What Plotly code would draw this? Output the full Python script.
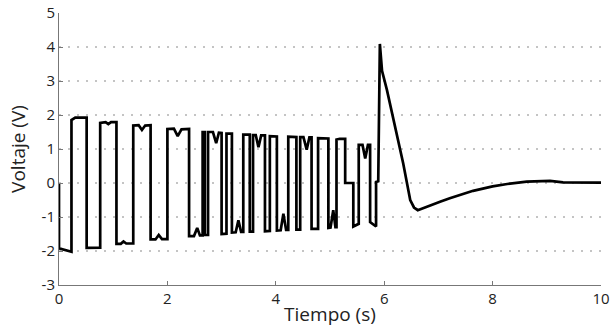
import plotly.graph_objects as go

# Time (s) and voltage (V) samples
tiempo = [
    0.00, 0.00, 0.23, 0.23, 0.30, 0.51, 0.51, 0.76, 0.76, 0.86, 0.91, 0.96, 1.06,
    1.06, 1.14, 1.19, 1.24, 1.37, 1.37, 1.47, 1.53, 1.59, 1.69, 1.69, 1.78, 1.84,
    1.90, 2.00, 2.00, 2.12, 2.19, 2.26, 2.40, 2.40, 2.49, 2.55, 2.60, 2.65, 2.65,
    2.69, 2.69, 2.75, 2.75, 2.84, 2.90, 2.95, 3.00, 3.00, 3.09, 3.09, 3.19, 3.19,
    3.26, 3.31, 3.36, 3.40, 3.40, 3.52, 3.52, 3.58, 3.58, 3.63, 3.68, 3.73, 3.80,
    3.80, 3.89, 3.89, 4.02, 4.02, 4.09, 4.14, 4.19, 4.23, 4.23, 4.38, 4.38, 4.45,
    4.45, 4.51, 4.57, 4.62, 4.66, 4.66, 4.78, 4.78, 4.97, 4.97, 5.01, 5.06, 5.10,
    5.12, 5.12, 5.18, 5.28, 5.28, 5.43, 5.43, 5.53, 5.53, 5.60, 5.65, 5.70, 5.74,
    5.74, 5.85, 5.85, 5.89, 5.92, 5.96, 6.05, 6.20, 6.35, 6.48, 6.55, 6.62, 6.85,
    7.03, 7.21, 7.64, 8.00, 8.27, 8.63, 9.06, 9.30, 10.00,
]
voltaje = [
    0.00, -1.92, -2.02, 1.85, 1.92, 1.92, -1.91, -1.90, 1.77, 1.79, 1.73, 1.79, 1.79,
    -1.79, -1.79, -1.72, -1.78, -1.78, 1.69, 1.70, 1.56, 1.69, 1.70, -1.66, -1.66, -1.53,
    -1.65, -1.65, 1.59, 1.60, 1.38, 1.58, 1.59, -1.56, -1.56, -1.32, -1.54, -1.54, 1.50,
    1.50, -1.53, -1.53, 1.50, 1.50, 1.17, 1.48, 1.47, -1.50, -1.49, 1.45, 1.45, -1.46,
    -1.45, -1.10, -1.44, -1.44, 1.42, 1.42, -1.43, -1.43, 1.41, 1.41, 1.05, 1.40, 1.40,
    -1.42, -1.41, 1.38, 1.37, -1.40, -1.39, -0.90, -1.38, -1.38, 1.36, 1.35, -1.37, -1.37,
    1.35, 1.35, 0.98, 1.34, 1.34, -1.35, -1.35, 1.32, 1.31, -1.32, -1.31, -0.80, -1.30,
    -1.30, 1.28, 1.30, 1.30, 0.00, 0.00, -1.28, -1.20, 1.12, 1.12, 0.72, 1.12, 1.12,
    -1.15, -1.28, 0.03, 0.05, 4.09, 3.30, 2.74, 1.66, 0.58, -0.50, -0.72, -0.80, -0.65,
    -0.55, -0.45, -0.23, -0.10, -0.03, 0.04, 0.06, 0.02, 0.01,
]

x_ticks = [0, 2, 4, 6, 8, 10]
y_ticks = [-3, -2, -1, 0, 1, 2, 3, 4, 5]

fig = go.Figure()
fig.add_trace(go.Scatter(
    x=tiempo, y=voltaje, mode="lines",
    line=dict(color="black", width=2.7),
    showlegend=False, hoverinfo="skip",
))

font_family = "Open Sans, Lato, sans-serif"
fig.update_layout(
    width=614, height=334,
    margin=dict(l=59, r=13, t=13, b=49),
    paper_bgcolor="white", plot_bgcolor="white",
    font=dict(family=font_family, color="#222", size=15),
)
fig.update_xaxes(
    range=[0, 10], tickvals=x_ticks, ticktext=[str(v) for v in x_ticks],
    showgrid=False, zeroline=False, automargin=False,
    showline=True, linecolor="#777", linewidth=1,
    ticks="inside", ticklen=4, tickcolor="#777",
    tickfont=dict(size=15),
    title=dict(text="Tiempo (s)", font=dict(size=19), standoff=0),
)
fig.update_yaxes(
    range=[-3, 5], tickvals=y_ticks, ticktext=[str(v) for v in y_ticks],
    showgrid=True, gridcolor="#c4c4c4", griddash="2px,7px", gridwidth=1.2,
    zeroline=False, automargin=False,
    showline=True, linecolor="#777", linewidth=1,
    ticks="inside", ticklen=4, tickcolor="#777",
    tickfont=dict(size=15),
    title=dict(text="Voltaje (V)", font=dict(size=19), standoff=10),
)

fig.write_html(
    "out.html",
    config={"displayModeBar": False, "staticPlot": True},
    post_script="document.body.style.margin='0';document.body.style.overflow='hidden';",
)
